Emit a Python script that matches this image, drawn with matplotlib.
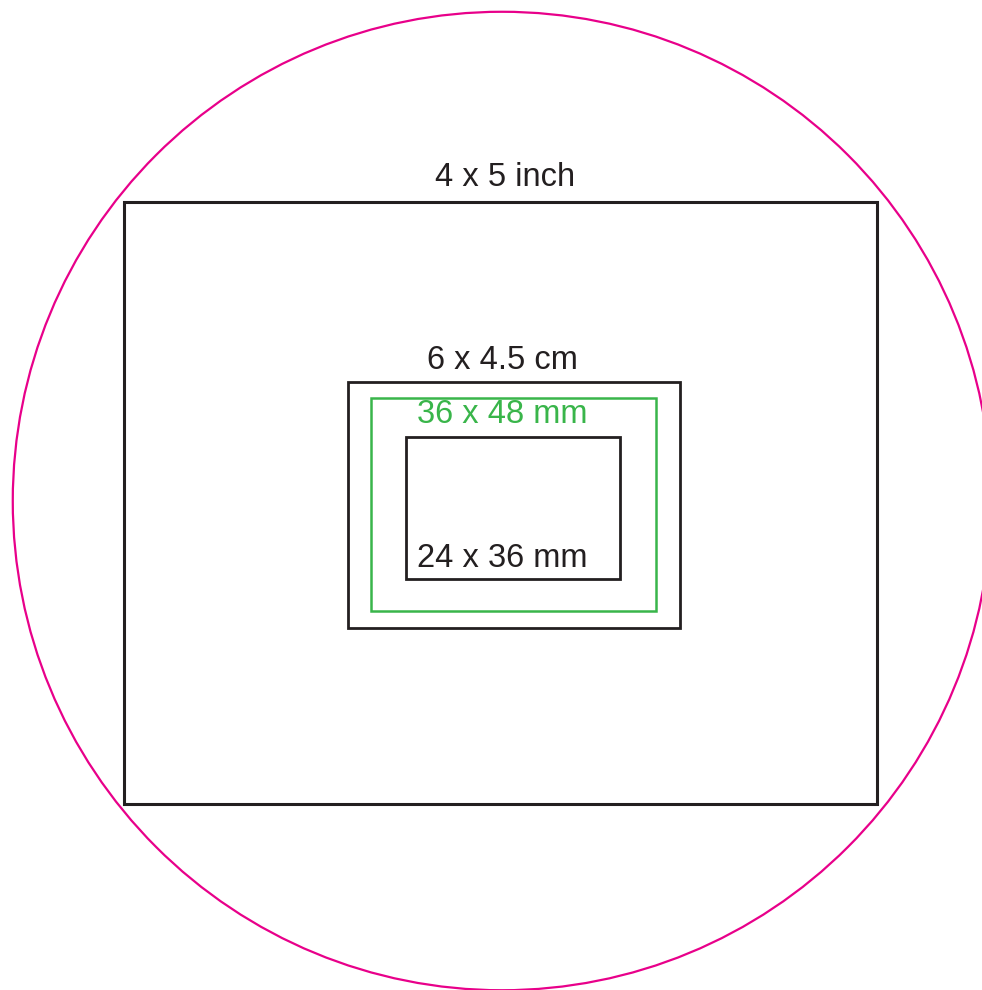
import matplotlib
matplotlib.use("Agg")
import matplotlib.pyplot as plt
from matplotlib.patches import Rectangle, Circle

plt.rcParams['font.family'] = ['Liberation Sans', 'DejaVu Sans']

# film formats, sizes in mm (width, height)
labels  = ["4 x 5 inch", "6 x 4.5 cm", "36 x 48 mm", "24 x 36 mm"]
widths  = [127.0, 56.0, 48.0, 36.0]
heights = [101.6, 41.5, 36.0, 24.0]
image_circle = 165.0  # diameter, mm

# layout (mm): rectangle centres and label anchors
centres   = [(-0.2, -0.35), (2.1, -0.6), (1.9, -0.6), (1.85, -1.2)]
label_pos = [(0.5, 53.1), (0.1, 22.3), (0.0, 13.2), (0.1, -11.1)]
colors    = ["#231f20", "#231f20", "#39b54a", "#231f20"]
lws       = [2.2, 2.0, 1.8, 2.0]

px_per_mm = 5.93
fig = plt.figure(figsize=(9.82, 9.9), dpi=100)
ax = fig.add_axes([0, 0, 1, 1])
ax.set_xlim(-502 / px_per_mm, 480 / px_per_mm)
ax.set_ylim(-489 / px_per_mm, 501 / px_per_mm)
ax.set_aspect('equal')
ax.axis('off')

ax.add_patch(Circle((0, 0), image_circle / 2, fill=False, ec="#e8008a", lw=1.6))

for i in range(len(labels)):
    cx, cy = centres[i]
    ax.add_patch(Rectangle((cx - widths[i] / 2, cy - heights[i] / 2), widths[i], heights[i],
                           fill=False, ec=colors[i], lw=lws[i]))
    tx, ty = label_pos[i]
    ax.text(tx, ty, labels[i], color=colors[i], fontsize=23.5, ha='center', va='baseline')

fig.savefig("out.png", dpi=100)
